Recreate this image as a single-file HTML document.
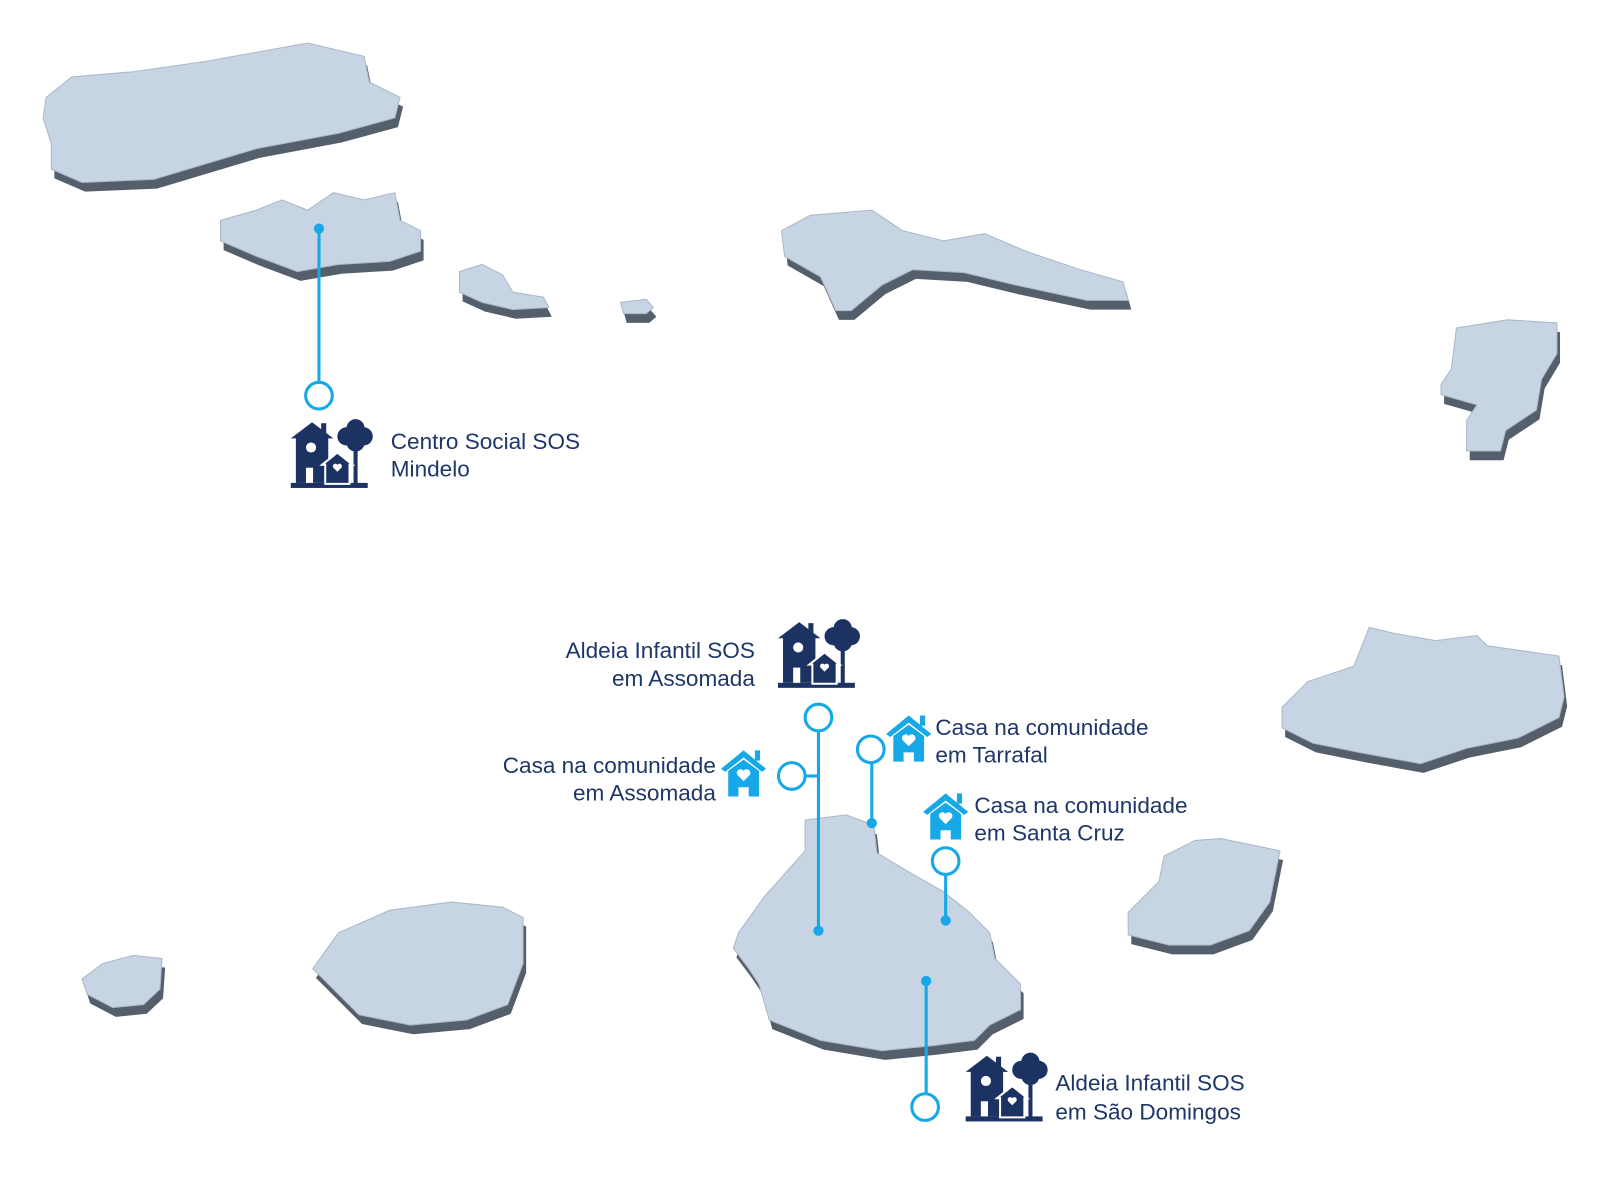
<!DOCTYPE html>
<html><head><meta charset="utf-8"><style>
html,body{margin:0;padding:0;background:#fff;}
svg{display:block;}
text{font-family:"Liberation Sans",sans-serif;font-size:22px;fill:#1e3668;}
</style></head><body>
<svg width="1600" height="1186" viewBox="0 0 1560 1157" preserveAspectRatio="none" xmlns="http://www.w3.org/2000/svg">
<defs>
<symbol id="vil" viewBox="0 0 80 75">
<rect x="0" y="68" width="76" height="5" fill="#1b3263"/>
<polygon points="0,24 21,8 42,24" fill="#1b3263"/>
<rect x="30" y="9" width="5" height="10" fill="#1b3263"/>
<rect x="5" y="22" width="32" height="46" fill="#1b3263"/>
<circle cx="20" cy="33" r="5" fill="#fff"/>
<rect x="15" y="53" width="7" height="15" fill="#fff"/>
<rect x="62" y="28" width="4" height="42" fill="#1b3263"/>
<circle cx="64" cy="14" r="9" fill="#1b3263"/>
<circle cx="55" cy="22" r="9" fill="#1b3263"/>
<circle cx="72" cy="22" r="9" fill="#1b3263"/>
<circle cx="64" cy="28" r="9" fill="#1b3263"/>
<polygon points="31,50 46,38 61,50 58,50 58,69 34,69 34,50" fill="#1b3263" stroke="#fff" stroke-width="2"/>
<path d="M46 57 l-4 -4 a2.5 2.5 0 0 1 4 -3 a2.5 2.5 0 0 1 4 3 z" fill="#fff"/>
</symbol>
<symbol id="hse" viewBox="0 0 45 50">
<polygon points="0,22 22,4 44,22 40,25 22,11 4,25" fill="#17a8e8"/>
<rect x="33" y="4" width="5" height="10" fill="#17a8e8"/>
<path d="M7 24 L22 13 L37 24 L37 49 L27 49 L27 40 L17 40 L17 49 L7 49 Z" fill="#17a8e8"/>
<path d="M22 34 l-6 -6 a3.5 3.5 0 0 1 6 -4 a3.5 3.5 0 0 1 6 4 z" fill="#fff"/>
</symbol>
</defs>
<g id="isl">
<g fill="#555f6b" transform="translate(3,9)">
<polygon points="45,95 70,75 130,70 200,60 300,42 355,55 360,80 390,95 385,115 330,130 250,145 150,175 80,178 50,165 50,140 42,115"/>
<polygon points="215,215 250,205 275,195 300,205 325,188 355,195 385,188 390,215 410,225 410,245 380,255 330,258 290,265 250,250 215,235"/>
<polygon points="448,265 470,258 490,268 500,285 530,290 535,300 500,302 470,295 448,285"/>
<polygon points="605,295 630,292 637,300 630,306 608,306"/>
<polygon points="762,225 790,210 850,205 880,225 920,235 960,228 1000,245 1050,262 1095,275 1100,293 1060,293 990,278 940,266 890,263 860,278 830,303 815,303 800,270 765,250"/>
<polygon points="1420,320 1470,312 1518,315 1518,345 1503,370 1498,400 1468,420 1463,440 1430,440 1430,410 1440,395 1405,385 1405,375 1415,360"/>
<polygon points="1250,690 1275,665 1320,650 1335,612 1360,618 1400,625 1440,620 1450,630 1520,640 1525,680 1520,700 1480,720 1430,730 1385,745 1330,735 1280,725 1250,710"/>
<polygon points="1100,890 1130,860 1135,835 1165,820 1190,818 1248,830 1238,880 1218,908 1180,922 1140,922 1100,912"/>
<polygon points="785,800 825,795 852,805 855,832 885,850 920,870 945,890 965,910 970,935 995,960 995,985 965,1000 950,1015 910,1020 860,1025 800,1015 750,995 740,960 730,945 715,925 720,910 745,875 785,830"/>
<polygon points="305,945 330,910 380,888 440,880 490,885 510,895 510,940 495,980 455,995 400,1000 350,990"/>
<polygon points="80,955 100,940 130,932 158,935 156,965 140,980 110,983 85,970"/>
</g>
<g fill="#c6d4e3" stroke="#aab8c8" stroke-width="1">
<polygon points="45,95 70,75 130,70 200,60 300,42 355,55 360,80 390,95 385,115 330,130 250,145 150,175 80,178 50,165 50,140 42,115"/>
<polygon points="215,215 250,205 275,195 300,205 325,188 355,195 385,188 390,215 410,225 410,245 380,255 330,258 290,265 250,250 215,235"/>
<polygon points="448,265 470,258 490,268 500,285 530,290 535,300 500,302 470,295 448,285"/>
<polygon points="605,295 630,292 637,300 630,306 608,306"/>
<polygon points="762,225 790,210 850,205 880,225 920,235 960,228 1000,245 1050,262 1095,275 1100,293 1060,293 990,278 940,266 890,263 860,278 830,303 815,303 800,270 765,250"/>
<polygon points="1420,320 1470,312 1518,315 1518,345 1503,370 1498,400 1468,420 1463,440 1430,440 1430,410 1440,395 1405,385 1405,375 1415,360"/>
<polygon points="1250,690 1275,665 1320,650 1335,612 1360,618 1400,625 1440,620 1450,630 1520,640 1525,680 1520,700 1480,720 1430,730 1385,745 1330,735 1280,725 1250,710"/>
<polygon points="1100,890 1130,860 1135,835 1165,820 1190,818 1248,830 1238,880 1218,908 1180,922 1140,922 1100,912"/>
<polygon points="785,800 825,795 852,805 855,832 885,850 920,870 945,890 965,910 970,935 995,960 995,985 965,1000 950,1015 910,1020 860,1025 800,1015 750,995 740,960 730,945 715,925 720,910 745,875 785,830"/>
<polygon points="305,945 330,910 380,888 440,880 490,885 510,895 510,940 495,980 455,995 400,1000 350,990"/>
<polygon points="80,955 100,940 130,932 158,935 156,965 140,980 110,983 85,970"/>
</g>
</g>
<g stroke="#17a8e8" stroke-width="3" fill="none">
<line x1="311" y1="223" x2="311" y2="373"/><circle cx="311" cy="386" r="13" fill="#fff"/>
<line x1="798" y1="713" x2="798" y2="908"/><circle cx="798" cy="700" r="13" fill="#fff"/>
<line x1="785" y1="757" x2="798" y2="757"/><circle cx="772" cy="757" r="13" fill="#fff"/>
<line x1="850" y1="744" x2="850" y2="803"/><circle cx="849" cy="731" r="13" fill="#fff"/>
<line x1="922" y1="853" x2="922" y2="898"/><circle cx="922" cy="840" r="13" fill="#fff"/>
<line x1="903" y1="957" x2="903" y2="1067"/><circle cx="902" cy="1080" r="13" fill="#fff"/>
</g>
<g fill="#17a8e8">
<circle cx="311" cy="223" r="5"/><circle cx="798" cy="908" r="5"/><circle cx="850" cy="803" r="5"/><circle cx="922" cy="898" r="5"/><circle cx="903" cy="957" r="5"/>
</g>
<use href="#vil" x="280" y="404" width="86" height="74"/>
<use href="#vil" x="755" y="599" width="86" height="74"/>
<use href="#vil" x="938" y="1022" width="86" height="74"/>
<use href="#hse" x="703" y="728" width="45" height="50"/>
<use href="#hse" x="864" y="694" width="45" height="50"/>
<use href="#hse" x="900" y="770" width="45" height="50"/>
<text x="381" y="438">Centro Social SOS</text><text x="381" y="465">Mindelo</text>
<text x="736" y="642" text-anchor="end">Aldeia Infantil SOS</text><text x="736" y="669" text-anchor="end">em Assomada</text>
<text x="698" y="754" text-anchor="end">Casa na comunidade</text><text x="698" y="781" text-anchor="end">em Assomada</text>
<text x="912" y="717">Casa na comunidade</text><text x="912" y="744">em Tarrafal</text>
<text x="950" y="793">Casa na comunidade</text><text x="950" y="820">em Santa Cruz</text>
<text x="1029" y="1064">Aldeia Infantil SOS</text><text x="1029" y="1092">em São Domingos</text>
</svg>
</body></html>
